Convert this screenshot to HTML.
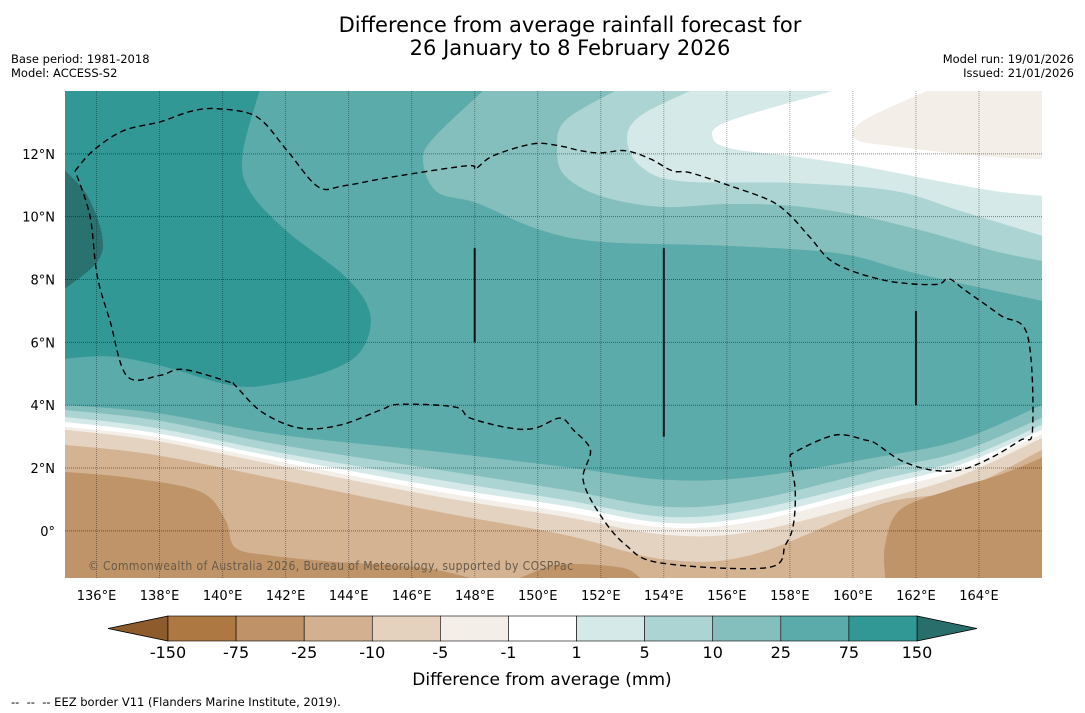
<!DOCTYPE html>
<html><head><meta charset="utf-8"><style>
html,body{margin:0;padding:0;background:#fff;}
body{width:1085px;height:713px;overflow:hidden;position:relative;font-family:"DejaVu Sans",sans-serif;}
.t{position:absolute;color:#000;}
</style></head><body>
<div class="t" style="left:0;width:1140px;top:14px;text-align:center;font-size:21px;line-height:23px;">Difference from average rainfall forecast for<br>26 January to 8 February 2026</div>
<div class="t" style="left:11px;top:52px;font-size:11.5px;line-height:14px;">Base period: 1981-2018<br>Model: ACCESS-S2</div>
<div class="t" style="right:11px;top:52px;font-size:11.5px;line-height:14px;text-align:right;">Model run: 19/01/2026<br>Issued: 21/01/2026</div>
<div class="t" style="left:11px;top:695px;font-size:11.5px;">--&nbsp; --&nbsp; -- EEZ border V11 (Flanders Marine Institute, 2019).</div>
<svg id="chart" width="1085" height="713" style="position:absolute;left:0;top:0;" xmlns="http://www.w3.org/2000/svg"></svg>
<script>
const lonCols=[135,137.86,141.83,146.84,150.84,154.05,156.84,160.84,163.41,166];
const b10=[4.0,3.75,3.05,2.51,2.03,1.62,1.71,2.35,2.89,4.0];
const b5=[3.84,3.52,2.73,1.94,1.3,0.76,0.98,1.94,2.51,3.59];
const b1=[3.62,3.27,2.48,1.62,0.98,0.44,0.67,1.62,2.25,3.37];
const bW=[3.46,3.11,2.32,1.4,0.79,0.25,0.44,1.43,2.1,3.21];
const bM1=[3.3,2.98,2.19,1.24,0.6,0.1,0.29,1.27,1.94,3.08];
const bM5=[3.21,2.86,2.06,1.08,0.44,-0.13,-0.03,0.98,1.75,2.95];
const bM10=[2.73,2.41,1.62,0.6,-0.13,-0.92,-0.76,0.83,1.3,2.57];
const t10=[[148.27,14],[146.68,12.48],[146.37,11.75],[146.81,10.79],[148.08,10.44],[149.98,9.62],[151.98,9.21],[156.02,9.08],[159.6,8.83],[162.05,8.19],[166,7.33]];
const t5=[[152.46,14],[150.87,13.05],[150.62,12.1],[150.87,11.3],[151.98,10.67],[153.89,10.32],[156.02,10.41],[158.11,10.35],[160.24,10.03],[162.37,9.52],[164.46,8.92],[166,8.6]];
const t1=[[154.84,14],[153.25,13.2],[152.84,12.48],[153.25,11.62],[154.52,11.14],[158.11,11.08],[161.29,10.83],[163.41,10.19],[166,9.4]];
const tW=[[159.38,14],[156.02,13.02],[155.57,12.48],[156.21,12.16],[158.02,11.94],[160.24,11.62],[162.37,11.21],[164.46,10.83],[166,10.67]];
const beigeBlob=[[162.37,14],[160.33,13.05],[160.08,12.48],[161.29,12.25],[164.05,11.94],[166,11.84]];
const wet75=[[141.16,14],[140.62,11.94],[140.87,10.79],[142.05,9.52],[143.95,8.03],[144.68,6.86],[144.37,5.71],[143.32,5.08],[141.73,4.7],[140.33,4.63],[138.02,5.27],[136.43,5.56],[135,5.49]];
const wet150=[[135,11.46],[135.7,10.67],[136.17,9.4],[136.02,8.57],[135,7.71]];
const brownLeft=[[135,1.87],[137.06,1.68],[139.29,1.24],[140.08,0.35],[140.4,-0.54],[141.51,-0.79],[143.41,-0.98],[146.27,-1.17],[147.86,-1.5]];
const brownMid=[[149.44,-1.5],[150.71,-1.08],[152.62,-1.17],[153.25,-1.5]];
const brownRight=[[161.03,-1.5],[161.03,-0.44],[161.51,0.67],[163.1,1.3],[164.68,1.78],[166,2.32]];
const eez=[[135.32,11.46],[135.89,12.1],[136.84,12.73],[138.02,13.02],[139.06,13.37],[139.92,13.43],[141.1,13.17],[142.05,12.1],[143.03,10.95],[143.83,10.98],[145.41,11.27],[147.76,11.62],[148.02,11.52],[148.59,11.94],[149.86,12.32],[150.71,12.25],[151.35,12.1],[151.98,12.03],[152.78,12.1],[153.57,11.84],[154.27,11.46],[154.84,11.4],[156.11,10.98],[157.38,10.51],[158.02,10.03],[158.65,9.33],[159.44,8.51],[161.03,7.97],[162.62,7.84],[163.03,8.03],[163.57,7.65],[164.68,6.86],[165.54,6.22],[165.7,3.21],[165.32,2.89],[164.37,2.32],[163.41,1.94],[162.46,1.94],[161.51,2.25],[160.71,2.79],[160.4,2.89],[159.44,3.05],[158.17,2.51],[158.02,2.25],[158.17,1.3],[158.11,0.19],[157.86,-0.44],[157.29,-1.17],[153.89,-1.02],[152.78,-0.44],[151.98,0.51],[151.44,1.62],[151.67,2.57],[151.13,3.21],[150.71,3.59],[149.92,3.27],[149.13,3.27],[147.86,3.59],[147.38,3.94],[145.63,4.03],[145.0,3.84],[143.73,3.37],[142.46,3.27],[141.25,3.78],[140.4,4.63],[140.24,4.73],[138.75,5.14],[138.02,4.95],[136.97,4.92],[136.43,6.67],[136.02,8.13],[135.79,10.03]];
const eezLines=[[148,6,9],[154,3,9],[162,4,7]];
const lonTicks=[136,138,140,142,144,146,148,150,152,154,156,158,160,162,164];
const latTicks=[0,2,4,6,8,10,12];
const cbLabels=['-150','-75','-25','-10','-5','-1','1','5','10','25','75','150'];
const cbColors=['#ae7842','#bf9268','#d3b08f','#e4d1be','#f4eee8','#ffffff','#d4e9e8','#abd4d3','#85bfbd','#5aabaa','#329896'];

const C={w150:'#2a7270',w75:'#329896',w25:'#5aabaa',w10:'#85bfbd',w5:'#abd4d3',w1:'#d4e9e8',z:'#ffffff',d1:'#f3eee8',d5:'#e5d3c2',d10:'#d4b393',d25:'#bf9468'};
const X0=65,X1=1042,Y0=91,Y1=578,LON0=135,LON1=166,LAT0=-1.5,LAT1=14;
const sx=l=>X0+(l-LON0)/(LON1-LON0)*(X1-X0);
const sy=l=>Y1-(l-LAT0)/(LAT1-LAT0)*(Y1-Y0);
const NS='http://www.w3.org/2000/svg';
const svg=document.getElementById('chart');
function mk(tag,attrs,parent){const e=document.createElementNS(NS,tag);for(const k in attrs)e.setAttribute(k,attrs[k]);(parent||svg).appendChild(e);return e;}
function smooth(pts){
  const p=pts.map(q=>[sx(q[0]),sy(q[1])]);
  let d='M'+p[0][0].toFixed(1)+','+p[0][1].toFixed(1);
  for(let i=0;i<p.length-1;i++){
    const a=p[Math.max(i-1,0)],b=p[i],c=p[i+1],e=p[Math.min(i+2,p.length-1)];
    const c1=[b[0]+(c[0]-a[0])/6,b[1]+(c[1]-a[1])/6],c2=[c[0]-(e[0]-b[0])/6,c[1]-(e[1]-b[1])/6];
    d+=' C'+c1[0].toFixed(1)+','+c1[1].toFixed(1)+' '+c2[0].toFixed(1)+','+c2[1].toFixed(1)+' '+c[0].toFixed(1)+','+c[1].toFixed(1);
  }
  return d;
}
function corners(list){return list.map(q=>' L'+sx(q[0]).toFixed(1)+','+sy(q[1]).toFixed(1)).join('');}
const clip=mk('clipPath',{id:'mapclip'},mk('defs',{}));
mk('rect',{x:X0,y:Y0,width:X1-X0,height:Y1-Y0},clip);
const g=mk('g',{'clip-path':'url(#mapclip)'});


const base=mk('rect',{x:X0,y:Y0,width:X1-X0,height:Y1-Y0,fill:C.w25},g);


function region(d,fill,name){const p=mk('path',{d:d+' Z',fill:fill,stroke:fill,'stroke-width':0.5},g);

}
region(smooth(wet75)+corners([[135,14]]),C.w75,'band-75-150');
region(smooth(wet150),C.w150,'band-over-150');
region(smooth(t10)+corners([[166,14]]),C.w10,'band-10-25-north');
region(smooth(t5)+corners([[166,14]]),C.w5,'band-5-10-north');
region(smooth(t1)+corners([[166,14]]),C.w1,'band-1-5-north');
region(smooth(tW)+corners([[166,14]]),C.z,'band-neutral-north');
region(smooth(beigeBlob)+corners([[166,14]]),C.d1,'band-dry-1-5-north');
const bottoms=[[b10,C.w10,'band-10-25-south'],[b5,C.w5,'band-5-10-south'],[b1,C.w1,'band-1-5-south'],[bW,C.z,'band-neutral-south'],[bM1,C.d1,'band-dry-1-5'],[bM5,C.d5,'band-dry-5-10'],[bM10,C.d10,'band-dry-10-25']];
bottoms.forEach(b=>{const pts=lonCols.map((l,i)=>[l,b[0][i]]);region(smooth(pts)+corners([[166,-1.5],[135,-1.5]]),b[1],b[2]);});
region(smooth(brownLeft)+corners([[135,-1.5]]),C.d25,'band-dry-25-75-west');
region(smooth(brownMid),C.d25,'band-dry-25-75-mid');
region(smooth(brownRight)+corners([[166,-1.5]]),C.d25,'band-dry-25-75-east');
lonTicks.forEach(l=>{const e=mk('line',{x1:sx(l),x2:sx(l),y1:Y0,y2:Y1,stroke:'rgba(0,0,0,0.35)','stroke-width':1,'stroke-dasharray':'1,1'},g);

});
latTicks.forEach(l=>{const e=mk('line',{x1:X0,x2:X1,y1:sy(l),y2:sy(l),stroke:'rgba(0,0,0,0.45)','stroke-width':1,'stroke-dasharray':'1,1'},g);

});
const ez=mk('path',{d:smooth(eez.concat([eez[0]])),fill:'none',stroke:'#000','stroke-width':1.4,'stroke-dasharray':'6,4'},g);


eezLines.forEach(s=>{const e=mk('line',{x1:sx(s[0]),x2:sx(s[0]),y1:sy(s[1]),y2:sy(s[2]),stroke:'#111','stroke-width':2},g);

});
const cp=mk('text',{x:88,y:570,'font-size':12,fill:'#6a5a48','font-family':'DejaVu Sans Condensed, DejaVu Sans, sans-serif','textLength':485},g);
cp.textContent='© Commonwealth of Australia 2026, Bureau of Meteorology, supported by COSPPac';


lonTicks.forEach(l=>{const t=mk('text',{x:sx(l),y:600,'text-anchor':'middle','font-size':13,fill:'#000','font-family':'DejaVu Sans, sans-serif'});t.textContent=l+'°E';

});
latTicks.forEach(l=>{const t=mk('text',{x:55,y:sy(l)+5,'text-anchor':'end','font-size':13,fill:'#000','font-family':'DejaVu Sans, sans-serif'});t.textContent=l===0?'0°':l+'°N';

});
const CB0=168,CB1=917,CBY=616,CBH=25,sw=(CB1-CB0)/cbColors.length;
const la=mk('polygon',{points:`${CB0},${CBY} ${CB0},${CBY+CBH} 108,${CBY+CBH/2}`,fill:'#8e5b2c',stroke:'#000','stroke-width':0.8});


const ra=mk('polygon',{points:`${CB1},${CBY} ${CB1},${CBY+CBH} 977,${CBY+CBH/2}`,fill:'#2a6e6c',stroke:'#000','stroke-width':0.8});


cbColors.forEach((c,i)=>{const r=mk('rect',{x:CB0+i*sw,y:CBY,width:sw,height:CBH,fill:c,stroke:'#000','stroke-width':0.6});

});
cbLabels.forEach((s,i)=>{const t=mk('text',{x:CB0+i*sw,y:658,'text-anchor':'middle','font-size':16,fill:'#000','font-family':'DejaVu Sans, sans-serif'});t.textContent=s;

});
const ct=mk('text',{x:542,y:685,'text-anchor':'middle','font-size':17,fill:'#000','font-family':'DejaVu Sans, sans-serif'});
ct.textContent='Difference from average (mm)';


</script>
</body></html>
